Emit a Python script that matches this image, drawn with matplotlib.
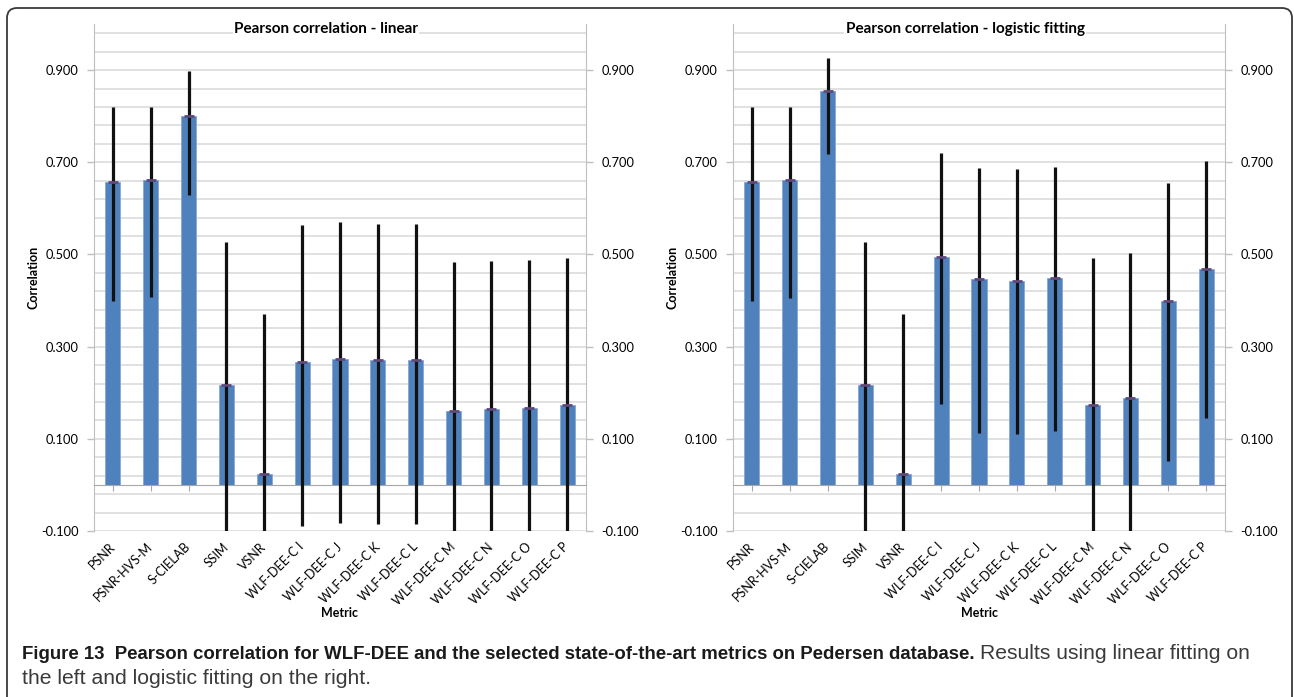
import matplotlib
matplotlib.use('Agg')
import matplotlib.pyplot as plt
import numpy as np
from matplotlib.ticker import MultipleLocator, FormatStrFormatter
from matplotlib.patches import FancyBboxPatch
from matplotlib.transforms import IdentityTransform

# metric names on the x axis
metrics = ['PSNR', 'PSNR-HVS-M', 'S-CIELAB', 'SSIM', 'VSNR',
           'WLF-DEE-C I', 'WLF-DEE-C J', 'WLF-DEE-C K', 'WLF-DEE-C L',
           'WLF-DEE-C M', 'WLF-DEE-C N', 'WLF-DEE-C O', 'WLF-DEE-C P']

# linear fitting: correlation and confidence interval ends
linear_r = [0.657, 0.662, 0.801, 0.217, 0.024, 0.267, 0.274, 0.272, 0.272,
            0.161, 0.165, 0.167, 0.174]
linear_lo = [0.400, 0.407, 0.628, -0.144, -0.327, -0.089, -0.083, -0.085, -0.085,
             -0.200, -0.196, -0.194, -0.187]
linear_hi = [0.819, 0.821, 0.899, 0.527, 0.370, 0.564, 0.570, 0.567, 0.567,
             0.483, 0.485, 0.489, 0.493]

# logistic fitting
logistic_r = [0.657, 0.662, 0.854, 0.217, 0.024, 0.495, 0.446, 0.443, 0.449,
              0.174, 0.189, 0.398, 0.469]
logistic_lo = [0.400, 0.405, 0.717, -0.144, -0.327, 0.176, 0.112, 0.111, 0.117,
               -0.187, -0.171, 0.052, 0.146]
logistic_hi = [0.819, 0.821, 0.926, 0.527, 0.370, 0.720, 0.688, 0.686, 0.689,
               0.493, 0.504, 0.655, 0.702]

BAR_BLUE = '#4F81BD'
GRID = '#D9D9D9'
AXIS_GRAY = '#BFBFBF'

plt.rcParams['font.family'] = ['Lato', 'DejaVu Sans']
CAPTION_FONTS = ['Liberation Sans Narrow', 'Liberation Sans', 'DejaVu Sans']

W, H = 1294, 697
fig = plt.figure(figsize=(W / 100, H / 100), dpi=100)


def draw_panel(left_px, title, r, lo, hi):
    ax = fig.add_axes([left_px / W, 1 - 531 / H, 492 / W, 507 / H])
    x = np.arange(len(metrics))
    r = np.asarray(r)
    lo = np.asarray(lo)
    hi = np.asarray(hi)

    ax.bar(x, r, width=0.4, color=BAR_BLUE, edgecolor='#86A8D4', linewidth=0.6, zorder=2)
    ax.errorbar(x, r, yerr=[r - lo, hi - r], fmt='none', ecolor='#111111',
                elinewidth=2.3, capsize=0, zorder=3)
    ax.plot(x, r, ls='none', marker='_', ms=7, mew=2, color='#5F497A', zorder=4)

    ax.set_xlim(-0.5, len(metrics) - 0.5)
    ax.set_ylim(-0.1, 1.0)
    ax.yaxis.set_major_locator(MultipleLocator(0.2, offset=0.1))
    ax.yaxis.set_minor_locator(MultipleLocator(0.04, offset=0.02))
    ax.yaxis.set_major_formatter(FormatStrFormatter('%.3f'))
    ax.grid(which='both', axis='y', color=GRID, lw=1.1)
    ax.set_axisbelow(True)

    ax.tick_params(axis='y', which='major', left=True, right=True,
                   labelleft=True, labelright=True, length=5, width=1,
                   color=AXIS_GRAY, labelsize=9.3, pad=6)
    ax.tick_params(axis='y', which='minor', length=0)

    for side in ('left', 'right'):
        ax.spines[side].set_color(AXIS_GRAY)
    ax.spines['top'].set_visible(False)
    # category axis sits on the zero line
    ax.spines['bottom'].set_position(('data', 0))
    ax.spines['bottom'].set_color('#A6A6A6')
    ax.set_xticks(x)
    ax.tick_params(axis='x', length=4, color='#A6A6A6', labelbottom=False)
    ax.set_xlabel('Metric', fontweight='bold', fontsize=9)
    ax.xaxis.set_label_coords(0.5, -(607 - 531) / 507)

    # names go below the plot area
    sec = ax.secondary_xaxis('bottom')
    sec.set_xticks(x, labels=metrics)
    sec.tick_params(length=0, pad=10, labelsize=9)
    sec.spines['bottom'].set_visible(False)
    plt.setp(sec.get_xticklabels(), rotation=45, ha='right', va='center',
             rotation_mode='anchor')

    ax.set_ylabel('Correlation', fontweight='bold', fontsize=9, labelpad=1)
    ax.text(0.5 - 14 / 492, 1 - 5 / 507, title, transform=ax.transAxes,
            ha='center', va='center', fontweight='bold', fontsize=11,
            bbox=dict(facecolor='white', edgecolor='none', pad=1))
    return ax


ax1 = draw_panel(94, 'Pearson correlation - linear', linear_r, linear_lo, linear_hi)
ax2 = draw_panel(733, 'Pearson correlation - logistic fitting',
                 logistic_r, logistic_lo, logistic_hi)

# rounded frame around the figure
frame = FancyBboxPatch((7, -40), 1285, 729, boxstyle='round,pad=0,rounding_size=10',
                       transform=IdentityTransform(), facecolor='none',
                       edgecolor='#3A3A3A', lw=1.3)
fig.add_artist(frame)

# caption
t1 = fig.text(22 / W, 1 - 659 / H,
              'Figure 13  Pearson correlation for WLF-DEE and the selected '
              'state-of-the-art metrics on Pedersen database.',
              fontweight='bold', fontsize=13.4, family=CAPTION_FONTS,
              va='baseline', color='#1A1A1A')
ax1.annotate('Results using linear fitting on', xy=(1, 0), xycoords=t1,
             xytext=(4, 0), textcoords='offset points', va='bottom', ha='left',
             fontsize=15.2, family=CAPTION_FONTS, color='#3A3A3A',
             annotation_clip=False)
fig.text(22 / W, 1 - 684 / H, 'the left and logistic fitting on the right.',
         fontsize=15.2, family=CAPTION_FONTS, va='baseline', color='#3A3A3A')

fig.savefig('out.png', dpi=100)
